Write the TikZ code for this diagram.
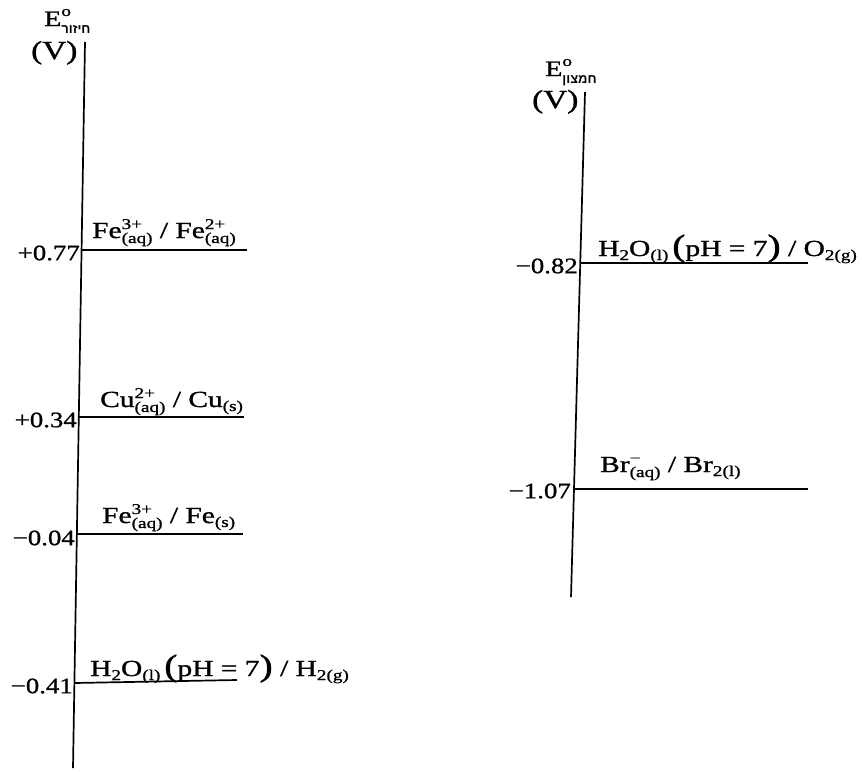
\documentclass[tikz,border=0pt]{standalone}
\usepackage{fontspec}
\setmainfont{Liberation Serif}[FakeStretch=1.28,FakeBold=1.2]
\newfontfamily\valfont{Liberation Serif}[FakeStretch=1.22,FakeBold=1.0]
\newfontfamily\hebfont[Script=Hebrew]{Liberation Sans}
\TeXXeTstate=1
\newcommand\fsz[1]{\fontsize{#1}{#1}\selectfont}
\newcommand\chss[2]{\makebox[0pt][l]{\raisebox{9pt}{\fsz{15}#1}}\raisebox{-5pt}{\fsz{15}#2}}
\newcommand\chsb[1]{\raisebox{-4pt}{\fsz{15}#1}}
\newcommand\bigpar[1]{{\fsz{31}#1}}
\newcommand\Ehead[1]{{\fsz{22}E}\makebox[0pt][l]{\raisebox{10pt}{\fsz{15}o}}\raisebox{-7pt}{\fsz{13}\hebfont\bfseries\beginR #1\endR}}
\begin{document}
\begin{tikzpicture}[x=1pt,y=-1pt,
  axis/.style={line width=1.7pt},
  tick/.style={line width=1.7pt},
  val/.style={anchor=east,inner sep=0pt,font=\fsz{22}\valfont},
  lab/.style={anchor=base west,inner sep=0pt,font=\fsz{23}},
  head/.style={anchor=base west,inner sep=0pt},
  unit/.style={anchor=base west,inner sep=0pt,font=\fsz{26}}]
\useasboundingbox (0,0) rectangle (862,771);
% left axis
\coordinate (LT) at (85,42);
\coordinate (LB) at (73,768);
\draw[axis] (LT) -- (LB);
\node[head] (LE) at (44,26) {\Ehead{חיזור}};
\node[unit] (LV) at (31,59) {(V)};
% left ticks
\coordinate (a1) at (81.7,250); \coordinate (b1) at (247,250);
\coordinate (a2) at (78.9,417); \coordinate (b2) at (244,417);
\coordinate (a3) at (76.9,534); \coordinate (b3) at (243,534);
\coordinate (a4) at (74.4,683); \coordinate (b4) at (237,680);
\draw[tick] (a1) -- (b1);
\draw[tick] (a2) -- (b2);
\draw[tick] (a3) -- (b3);
\draw[tick] (a4) -- (b4);
\node[val] (v1) at (80,253) {+0.77};
\node[val] (v2) at (77,420) {+0.34};
\node[val] (v3) at (75,538) {−0.04};
\node[val] (v4) at (73,686) {−0.41};
\node[lab] (l1) at (92,238) {Fe\chss{3+}{(aq)} / Fe\chss{2+}{(aq)}};
\node[lab] (l2) at (100,407) {Cu\chss{2+}{(aq)} / Cu\chsb{(s)}};
\node[lab] (l3) at (102,523) {Fe\chss{3+}{(aq)} / Fe\chsb{(s)}};
\node[lab] (l4) at (90,676) {H\chsb{2}O\chsb{(l)}\,\bigpar{(}pH = 7\bigpar{)} / H\chsb{2(g)}};
% right axis
\coordinate (RT) at (585,92);
\coordinate (RB) at (571,597);
\draw[axis] (RT) -- (RB);
\node[head] (RE) at (545,76) {\Ehead{חמצון}};
\node[unit] (RV) at (532,108) {(V)};
\coordinate (c1) at (580.1,263); \coordinate (d1) at (808,263);
\coordinate (c2) at (573.9,489); \coordinate (d2) at (808,489);
\draw[tick] (c1) -- (d1);
\draw[tick] (c2) -- (d2);
\node[val] (w1) at (578,266) {−0.82};
\node[val] (w2) at (571,491) {−1.07};
\node[lab] (m1) at (598,256) {H\chsb{2}O\chsb{(l)}\,\bigpar{(}pH = 7\bigpar{)} / O\chsb{2(g)}};
\node[lab] (m2) at (600,472) {Br\chss{−}{(aq)} / Br\chsb{2(l)}};
\end{tikzpicture}
\end{document}
